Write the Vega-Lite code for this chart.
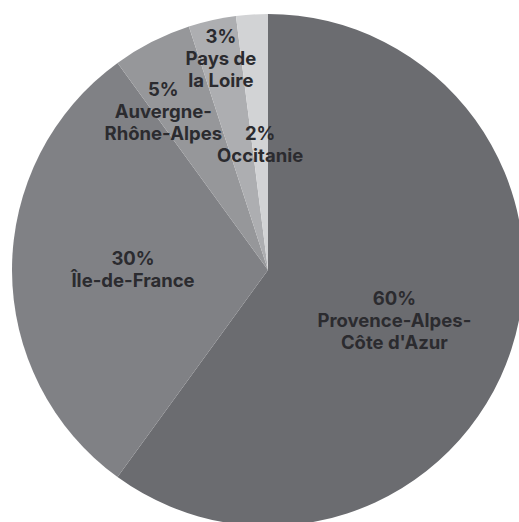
{
  "$schema": "https://vega.github.io/schema/vega-lite/v6.json",
  "width": 519,
  "height": 522,
  "autosize": {"type": "none"},
  "padding": 0,
  "background": "white",
  "view": {"stroke": null},
  "data": {
    "values": [
      {"region": "Provence-Alpes-Côte d'Azur", "value": 60, "label": "60%\nProvence-Alpes-\nCôte d'Azur"},
      {"region": "Île-de-France", "value": 30, "label": "30%\nÎle-de-France"},
      {"region": "Auvergne-Rhône-Alpes", "value": 5, "label": "5%\nAuvergne-\nRhône-Alpes"},
      {"region": "Pays de la Loire", "value": 3, "label": "3%\nPays de\nla Loire"},
      {"region": "Occitanie", "value": 2, "label": "2%\nOccitanie"}
    ]
  },
  "encoding": {
    "theta": {"field": "value", "type": "quantitative", "stack": true},
    "order": {"field": "value", "type": "quantitative", "sort": "descending"},
    "radius": {
      "field": "value",
      "type": "quantitative",
      "scale": {
        "type": "linear",
        "zero": false,
        "nice": false,
        "domain": [2, 3, 5, 30, 60],
        "range": [125, 216, 191, 135, 135]
      }
    }
  },
  "layer": [
    {
      "mark": {"type": "arc", "outerRadius": 256, "x": 268, "y": 270},
      "encoding": {
        "radius": null,
        "color": {
          "field": "region",
          "type": "nominal",
          "legend": null,
          "scale": {
            "domain": ["Provence-Alpes-Côte d'Azur", "Île-de-France", "Auvergne-Rhône-Alpes", "Pays de la Loire", "Occitanie"],
            "range": ["#6b6c70", "#808185", "#96979a", "#adaeb1", "#d2d3d5"]
          }
        }
      }
    },
    {
      "mark": {"type": "text", "x": 268, "y": 270, "dy": -22, "font": "Inter", "fontWeight": "bold", "fontSize": 18.5, "lineHeight": 22, "lineBreak": "\n", "color": "#2b2b2f", "align": "center", "baseline": "middle"},
      "encoding": {
        "text": {"condition": {"test": "datum.region == 'Pays de la Loire'", "field": "label"}, "value": ""}
      }
    },
    {
      "mark": {"type": "text", "x": 268, "y": 270, "dx": -2, "dy": -13, "font": "Inter", "fontWeight": "bold", "fontSize": 18.5, "lineHeight": 22, "lineBreak": "\n", "color": "#2b2b2f", "align": "center", "baseline": "middle"},
      "encoding": {
        "text": {"condition": {"test": "datum.region == 'Provence-Alpes-Côte d\\'Azur'", "field": "label"}, "value": ""}
      }
    },
    {
      "mark": {"type": "text", "x": 268, "y": 270, "dx": -18, "dy": -10, "font": "Inter", "fontWeight": "bold", "fontSize": 18.5, "lineHeight": 22, "lineBreak": "\n", "color": "#2b2b2f", "align": "center", "baseline": "middle"},
      "encoding": {
        "text": {"condition": {"test": "datum.region == 'Auvergne-Rhône-Alpes'", "field": "label"}, "value": ""}
      }
    },
    {
      "mark": {"type": "text", "x": 268, "y": 270, "dy": -11, "font": "Inter", "fontWeight": "bold", "fontSize": 18.5, "lineHeight": 22, "lineBreak": "\n", "color": "#2b2b2f", "align": "center", "baseline": "middle"},
      "encoding": {
        "text": {"condition": {"test": "length(split(datum.label, '\\n')) == 2", "field": "label"}, "value": ""}
      }
    }
  ]
}
